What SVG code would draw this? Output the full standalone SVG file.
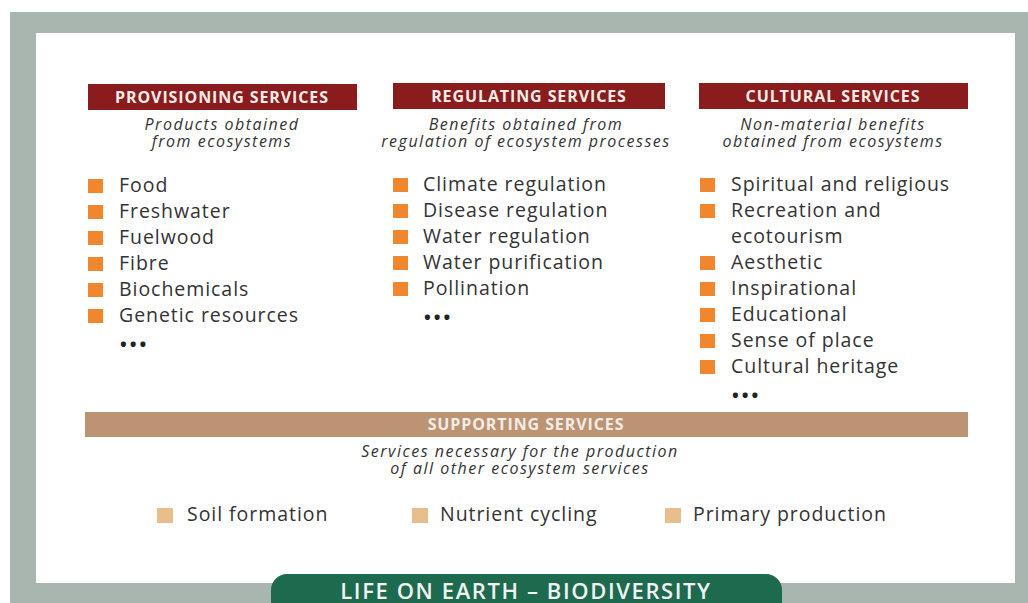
<svg xmlns="http://www.w3.org/2000/svg" width="1028" height="603" viewBox="0 0 1028 603">
<style>
.hdr{fill:#8a1c1e}
.ht{font-family:"Open Sans",sans-serif;font-weight:bold;font-size:16px;fill:#f4ece6;text-anchor:middle;letter-spacing:0.9px}
.sub{font-family:"Open Sans",sans-serif;font-style:italic;font-size:16px;fill:#333;text-anchor:middle;letter-spacing:1.5px}
.it{font-family:"Open Sans",sans-serif;font-size:19.5px;fill:#333;letter-spacing:0.95px}
.sq{fill:#f0862e}
.sq2{fill:#e8be8c}
.dots{font-family:"Open Sans",sans-serif;font-weight:bold;font-size:18px;fill:#222;letter-spacing:3px}
</style>
<rect x="0" y="0" width="1028" height="603" fill="#ffffff"/>
<rect x="10" y="12" width="1018" height="591" fill="#a9b6b0"/>
<rect x="36" y="33" width="979" height="550" fill="#ffffff"/>

<g id="provisioning">
<rect class="hdr" x="88" y="84" width="269" height="26"/>
<text class="ht" x="222" y="103">PROVISIONING SERVICES</text>
<text class="sub"><tspan x="222" y="130">Products obtained</tspan><tspan x="222" y="147">from ecosystems</tspan></text>
<rect class="sq" x="88" y="179" width="15" height="14"/>
<text class="it" x="119" y="192">Food</text>
<rect class="sq" x="88" y="205" width="15" height="14"/>
<text class="it" x="119" y="218">Freshwater</text>
<rect class="sq" x="88" y="231" width="15" height="14"/>
<text class="it" x="119" y="244">Fuelwood</text>
<rect class="sq" x="88" y="257" width="15" height="14"/>
<text class="it" x="119" y="270">Fibre</text>
<rect class="sq" x="88" y="283" width="15" height="14"/>
<text class="it" x="119" y="296">Biochemicals</text>
<rect class="sq" x="88" y="309" width="15" height="14"/>
<text class="it" x="119" y="322">Genetic resources</text>
<text class="dots" x="120" y="351">•••</text>
</g>

<g id="regulating">
<rect class="hdr" x="393" y="83" width="272" height="26"/>
<text class="ht" x="529" y="102">REGULATING SERVICES</text>
<text class="sub"><tspan x="526" y="130">Benefits obtained from</tspan><tspan x="526" y="147">regulation of ecosystem processes</tspan></text>
<rect class="sq" x="393" y="178" width="15" height="14"/>
<text class="it" x="423" y="191">Climate regulation</text>
<rect class="sq" x="393" y="204" width="15" height="14"/>
<text class="it" x="423" y="217">Disease regulation</text>
<rect class="sq" x="393" y="230" width="15" height="14"/>
<text class="it" x="423" y="243">Water regulation</text>
<rect class="sq" x="393" y="256" width="15" height="14"/>
<text class="it" x="423" y="269">Water purification</text>
<rect class="sq" x="393" y="282" width="15" height="14"/>
<text class="it" x="423" y="295">Pollination</text>
<text class="dots" x="424" y="324">•••</text>
</g>

<g id="cultural">
<rect class="hdr" x="699" y="83" width="269" height="26"/>
<text class="ht" x="833" y="102">CULTURAL SERVICES</text>
<text class="sub"><tspan x="833" y="130">Non-material benefits</tspan><tspan x="833" y="147">obtained from ecosystems</tspan></text>
<rect class="sq" x="700" y="178" width="15" height="14"/>
<text class="it" x="731" y="191">Spiritual and religious</text>
<rect class="sq" x="700" y="204" width="15" height="14"/>
<text class="it" x="731" y="217"><tspan x="731" y="217">Recreation and</tspan><tspan x="731" y="243">ecotourism</tspan></text>
<rect class="sq" x="700" y="256" width="15" height="14"/>
<text class="it" x="731" y="269">Aesthetic</text>
<rect class="sq" x="700" y="282" width="15" height="14"/>
<text class="it" x="731" y="295">Inspirational</text>
<rect class="sq" x="700" y="308" width="15" height="14"/>
<text class="it" x="731" y="321">Educational</text>
<rect class="sq" x="700" y="334" width="15" height="14"/>
<text class="it" x="731" y="347">Sense of place</text>
<rect class="sq" x="700" y="360" width="15" height="14"/>
<text class="it" x="731" y="373">Cultural heritage</text>
<text class="dots" x="732" y="402">•••</text>
</g>

<g id="supporting">
<rect x="85" y="412" width="883" height="25" fill="#bc9373"/>
<text class="ht" x="526" y="430">SUPPORTING SERVICES</text>
<text class="sub"><tspan x="520" y="457">Services necessary for the production</tspan><tspan x="520" y="474">of all other ecosystem services</tspan></text>
<rect class="sq2" x="157" y="508" width="16" height="15"/>
<text class="it" x="187" y="521">Soil formation</text>
<rect class="sq2" x="412" y="508" width="16" height="15"/>
<text class="it" x="440" y="521">Nutrient cycling</text>
<rect class="sq2" x="665" y="508" width="16" height="15"/>
<text class="it" x="693" y="521">Primary production</text>
</g>

<g id="biodiversity">
<rect x="271" y="574" width="511" height="45" rx="16" fill="#1d6a4f"/>
<text x="526" y="599" font-family="Open Sans, sans-serif" font-size="22px" font-weight="600" letter-spacing="1.6px" fill="#f2f2f2" text-anchor="middle">LIFE ON EARTH – BIODIVERSITY</text>
</g>
<g id="connectors"/>
</svg>
